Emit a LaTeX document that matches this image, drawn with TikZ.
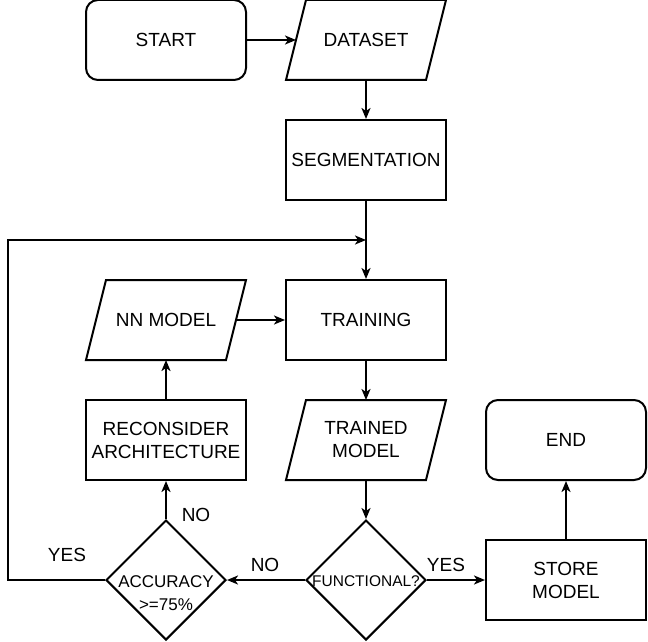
\documentclass[tikz,border=0pt]{standalone}
\usepackage{fontspec}
\setmainfont{Liberation Sans}
\usetikzlibrary{shapes.geometric,arrows.meta}
\newcommand\ioshape[1]{\draw[ioline] ([xshift=10pt]#1.north west) -- ([xshift=10pt]#1.north east) -- ([xshift=-10pt]#1.south east) -- ([xshift=-10pt]#1.south west) -- cycle;}
\begin{document}
\begin{tikzpicture}[x=1pt,y=-1pt,
 base/.style={draw, line width=2pt, font=\fontsize{19}{23}\selectfont, align=center, inner sep=0pt},
 term/.style={base, rectangle, rounded corners=12pt, minimum width=160pt, minimum height=80pt},
 proc/.style={base, rectangle, minimum width=160pt, minimum height=80pt},
 io/.style={base, draw=none, rectangle, outer sep=0pt, minimum width=140pt, minimum height=80pt},
 ioline/.style={draw, line width=2pt, line join=miter},
 dec/.style={base, diamond, minimum width=120pt, minimum height=120pt},
 dectext/.style={font=\fontsize{15.5}{23}\selectfont, align=center, inner sep=0pt},
 arr/.style={line width=2pt, -{Stealth[length=11pt,width=9pt,inset=3pt]}},
 lbl/.style={font=\fontsize{19}{21}\selectfont, inner sep=0pt}
]
\useasboundingbox (0,0) rectangle (648,642);
\node[term] (start) at (166,40) {START};
\node[io] (data) at (366,40) {DATASET};
\node[proc] (seg) at (366,160) {SEGMENTATION};
\node[proc] (train) at (366,320) {TRAINING};
\node[io] (nn) at (166,320) {NN MODEL};
\node[proc] (recon) at (166,440) {RECONSIDER\\ARCHITECTURE};
\node[io] (tm) at (366,440) {TRAINED\\MODEL};
\node[term] (end) at (566,440) {END};
\node[dec] (func) at (366,580) {};
\node[dectext] (functext) at (366,581) {FUNCTIONAL?};
\node[dec] (acc) at (166,580) {};
\node[dectext, font=\fontsize{17}{23}\selectfont] (acctext) at (166,593) {ACCURACY\\>=75\%};
\node[proc] (store) at (566,580) {STORE\\MODEL};
\ioshape{data}
\ioshape{nn}
\ioshape{tm}
\coordinate (lc) at (8,240);
\coordinate (lt) at (366,240);

\draw[arr] (start) -- (data);
\draw[arr] (data) -- (seg);
\draw[arr] (seg) -- (train);
\draw[arr] (nn) -- (train);
\draw[arr] (train) -- (tm);
\draw[arr] (tm) -- (func);
\draw[arr] (func) -- (store);
\draw[arr] (func) -- (acc);
\draw[arr] (store) -- (end);
\draw[arr] (acc) -- (recon);
\draw[arr] (recon) -- (nn);
\draw[arr] (acc.west) -| (lc) -- (lt);

\node[lbl] (l1) at (196,515) {NO};
\node[lbl] (l2) at (67,555) {YES};
\node[lbl] (l3) at (265,565) {NO};
\node[lbl] (l4) at (446,565) {YES};
\end{tikzpicture}
\end{document}
